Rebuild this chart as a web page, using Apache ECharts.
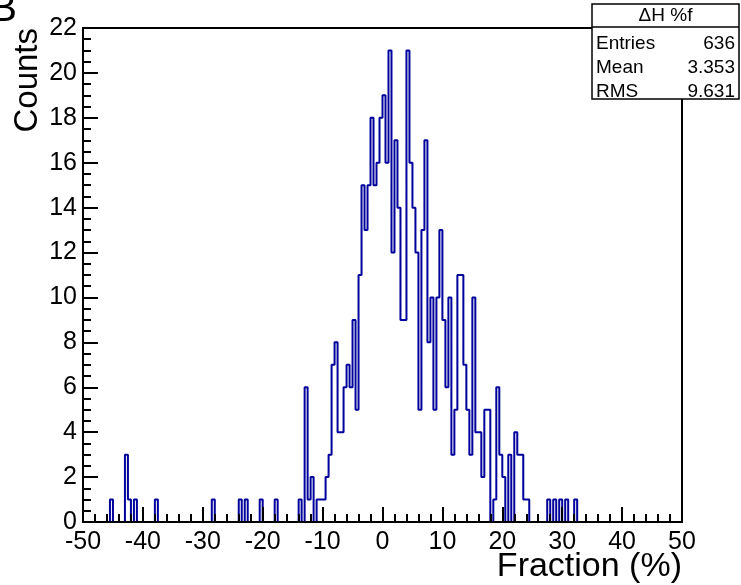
<!DOCTYPE html>
<html><head><meta charset="utf-8">
<script src="https://cdn.jsdelivr.net/npm/echarts@6/dist/echarts.min.js"></script>
<style>html,body{margin:0;padding:0;background:#fff}#c{width:741px;height:585px}</style>
</head><body><div id="c"></div>
<script>
// Histogram: 200 bins of width 0.5 from -50 to 50
const binLow = -50;
const binWidth = 0.5;
const countsA = [0,0,0,0,0,0,0,0,0,1, 0,0,0,0,3,1,0,1,0,0];        // -50 .. -40.5
const countsB = [0,0,0,0,1,0,0,0,0,0, 0,0,0,0,0,0,0,0,0,0];        // -40 .. -30.5
const countsC = [0,0,0,1,0,0,0,0,0,0, 0,0,1,0,1,0,0,0,0,1];        // -30 .. -20.5
const countsD = [0,0,0,0,1,0,0,0,0,0, 0,0,1,0,6,1,2,0,1,1];        // -20 .. -10.5
const countsE = [1,2,3,7,8,4,4,6,7,6, 9,5,11,15,13,15,18,15,16,18]; // -10 .. -0.5
const countsF = [19,16,21,12,17,14,9,9,21,16, 14,12,5,13,17,8,10,5,10,13]; // 0 .. 9.5
const countsG = [9,6,10,3,5,11,11,7,5,3, 10,4,4,2,5,5,0,1,6,3];   // 10 .. 19.5
const countsH = [2,0,3,0,4,3,3,1,1,0, 0,0,0,0,0,1,0,1,0,1];        // 20 .. 29.5
const countsI = [0,1,0,0,1,0,0,0,0,0, 0,0,0,0,0,0,0,0,0,0];        // 30 .. 39.5
const countsJ = [0,0,0,0,0,0,0,0,0,0, 0,0,0,0,0,0,0,0,0,0];        // 40 .. 49.5
const counts = [].concat(countsA,countsB,countsC,countsD,countsE,countsF,countsG,countsH,countsI,countsJ);

const xRange = [-50, 50];
const yRange = [0, 22];
const statsTitle = 'ΔH %f';
const statsRows = [['Entries','636'],['Mean','3.353'],['RMS','9.631']];
const xTitle = 'Fraction (%)';
const yTitle = 'Counts';

const stepData = counts.map((c,i)=>[binLow + i*binWidth, c]);
stepData.push([binLow + counts.length*binWidth, counts[counts.length-1]]);

const FONT = 'Liberation Sans, Arial, Helvetica, sans-serif';
const chart = echarts.init(document.getElementById('c'), null, {renderer:'canvas'});

const gL = 83, gR = 682, gT = 28, gB = 522;
const box = {x:592, y:4, w:147, h:95};

chart.setOption({
  animation:false,
  backgroundColor:'#fff',
  grid:{left:gL, right:741-gR, top:gT, bottom:585-gB, containLabel:false},
  xAxis:[{
    type:'value', min:xRange[0], max:xRange[1], interval:10, z:5,
    axisLine:{show:true, onZero:false, lineStyle:{color:'#000', width:2}},
    axisTick:{show:true, inside:true, length:15, lineStyle:{color:'#000', width:2}},
    minorTick:{show:true, splitNumber:5, length:8, lineStyle:{color:'#000', width:2}},
    axisLabel:{show:true, margin:8, fontSize:25, color:'#000', fontFamily:FONT, showMinLabel:true, showMaxLabel:true},
    splitLine:{show:false}, minorSplitLine:{show:false}
  },{
    type:'value', position:'top', min:xRange[0], max:xRange[1], z:5,
    axisLine:{show:true, onZero:false, lineStyle:{color:'#000', width:2}},
    axisTick:{show:false}, axisLabel:{show:false}, splitLine:{show:false}
  }],
  yAxis:[{
    type:'value', min:yRange[0], max:yRange[1], interval:2, z:5,
    axisLine:{show:true, onZero:false, lineStyle:{color:'#000', width:2}},
    axisTick:{show:true, inside:true, length:15, lineStyle:{color:'#000', width:2}},
    minorTick:{show:true, splitNumber:4, length:8, lineStyle:{color:'#000', width:2}},
    axisLabel:{show:true, margin:6, fontSize:25, color:'#000', fontFamily:FONT, showMinLabel:true, showMaxLabel:true},
    splitLine:{show:false}, minorSplitLine:{show:false}
  },{
    type:'value', position:'right', min:yRange[0], max:yRange[1], z:5,
    axisLine:{show:true, onZero:false, lineStyle:{color:'#000', width:2}},
    axisTick:{show:false}, axisLabel:{show:false}, splitLine:{show:false}
  }],
  series:[{
    type:'line', step:'end', data:stepData, showSymbol:false, symbol:'none',
    lineStyle:{color:'#00009c', width:2}, z:2, clip:true
  }],
  graphic:[
    {type:'text', x:28, y:gT, rotation:Math.PI/2, z:10,
     style:{text:yTitle, font:'33px '+FONT, fill:'#000', align:'right', verticalAlign:'middle'}},
    {type:'text', x:gR, y:567, z:10,
     style:{text:xTitle, font:'34px '+FONT, fill:'#000', align:'right', verticalAlign:'middle'}},
    {type:'text', x:17, y:30, z:10,
     style:{text:'B', font:'40px '+FONT, fill:'#000', align:'right', verticalAlign:'bottom'}},
    {type:'group', z:20, children:[
      {type:'rect', shape:{x:box.x, y:box.y, width:box.w, height:box.h},
       style:{fill:'#fff', stroke:'#000', lineWidth:1.5}, z:20},
      {type:'line', shape:{x1:box.x, y1:27, x2:box.x+box.w, y2:27}, style:{stroke:'#000', lineWidth:1.5}, z:21},
      {type:'text', x:box.x+box.w/2, y:16, z:21,
       style:{text:statsTitle, font:'19px '+FONT, fill:'#000', align:'center', verticalAlign:'middle'}},
      ...statsRows.flatMap((r,i)=>[
        {type:'text', x:box.x+4, y:44+i*24, z:21,
         style:{text:r[0], font:'19px '+FONT, fill:'#000', align:'left', verticalAlign:'middle'}},
        {type:'text', x:box.x+box.w-4, y:44+i*24, z:21,
         style:{text:r[1], font:'19px '+FONT, fill:'#000', align:'right', verticalAlign:'middle'}}
      ])
    ]}
  ]
});
</script></body></html>
